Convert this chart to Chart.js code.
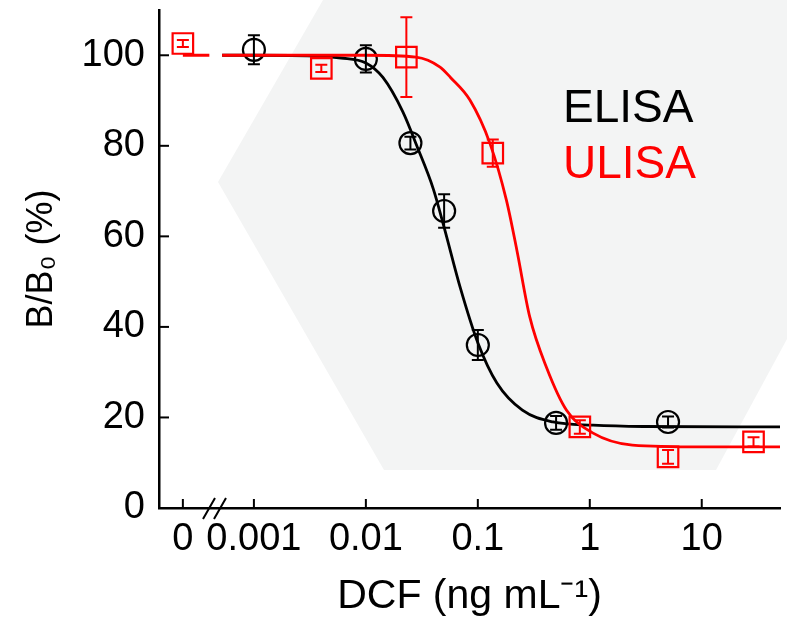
<!DOCTYPE html>
<html>
<head>
<meta charset="utf-8">
<script src="https://cdn.jsdelivr.net/npm/chart.js@4.4.1/dist/chart.umd.min.js"></script>
<style>
html, body { margin: 0; padding: 0; background: #fff; }
#wrap { width: 787px; height: 623px; }
</style>
</head>
<body>
<div id="wrap"><canvas id="c" width="787" height="623"></canvas></div>
<script>
// where "0" sits on the log axis, left of the break
const ZERO_POS = 2.32e-4
const BREAK_LO = 4.0e-4
const BREAK_HI = 5.2e-4

const xTickVals = [0, 0.001, 0.01, 0.1, 1, 10]
const yTickVals = [0, 20, 40, 60, 80, 100]

// ELISA measured points
const elisaConc = [0.001, 0.01, 0.025, 0.05, 0.1, 0.5, 5]
const elisaB = [101.2, 99.2, 80.6, 65.6, 36.0, 18.8, 19.0]
const elisaErr = [3.2, 3.0, 1.4, 3.7, 3.3, 1.5, 1.2]

// ULISA measured points
const ulisaConc = [0, 0.004, 0.023, 0.136, 0.815, 5, 29]
const ulisaB = [102.6, 97.1, 99.6, 78.4, 17.9, 11.3, 14.6]
const ulisaErr = [0.8, 0.8, 8.8, 3.0, 1.5, 1.5, 1.0]

// fitted curves
const elisaFitX = [BREAK_HI, 0.001, 0.003, 0.006, 0.01, 0.0142, 0.0214, 0.0285, 0.04, 0.05, 0.07, 0.1, 0.148, 0.25, 0.47, 1.07, 3, 50]
const elisaFitY = [100, 100, 99.9, 99.4, 98.3, 95.1, 87.5, 80.0, 70.5, 62.0, 48.5, 36.5, 27.6, 21.6, 19.0, 18.3, 18.0, 17.9]
const ulisaFitX = [ZERO_POS, BREAK_LO, BREAK_LO, BREAK_HI, 0.001, 0.01, 0.028, 0.046, 0.057, 0.085, 0.128, 0.18, 0.223, 0.291, 0.41, 0.62, 1.06, 2.4, 10, 50]
const ulisaFitY = [100, 100, null, 100, 100, 100, 99.6, 97.4, 95.1, 90.1, 80.6, 68.0, 57.0, 42.2, 31.1, 21.6, 16.6, 13.9, 13.5, 13.5]

const pos = v => v === 0 ? ZERO_POS : v
const pts = (xs, ys) => xs.map((x, i) => ({x: pos(x), y: ys[i]}))

const FONT = "Arial, 'Liberation Sans', sans-serif"

const bgPlugin = {
  id: 'bg',
  beforeDraw(chart) {
    const ctx = chart.ctx
    ctx.save()
    ctx.fillStyle = '#f3f4f4'
    ctx.beginPath()
    ctx.moveTo(218, 182)
    ctx.lineTo(323, 0)
    ctx.lineTo(787, 0)
    ctx.lineTo(787, 339)
    ctx.lineTo(716, 470)
    ctx.lineTo(384, 470)
    ctx.closePath()
    ctx.fill()
    ctx.restore()
  }
}

const decoPlugin = {
  id: 'deco',
  afterDatasetsDraw(chart) {
    const ctx = chart.ctx
    const xs = chart.scales.x, ys = chart.scales.y
    ctx.save()
    ctx.lineWidth = 2
    chart.data.datasets.forEach(ds => {
      if (!ds.errors) return
      ctx.strokeStyle = ds.borderColor
      ds.data.forEach((p, i) => {
        const px = xs.getPixelForValue(p.x)
        const y1 = ys.getPixelForValue(p.y + ds.errors[i])
        const y2 = ys.getPixelForValue(p.y - ds.errors[i])
        ctx.beginPath()
        ctx.moveTo(px, y1); ctx.lineTo(px, y2)
        ctx.moveTo(px - 6, y1); ctx.lineTo(px + 6, y1)
        ctx.moveTo(px - 6, y2); ctx.lineTo(px + 6, y2)
        ctx.stroke()
      })
    })
    ctx.restore()
  },
  afterDraw(chart) {
    const ctx = chart.ctx
    const xs = chart.scales.x, ys = chart.scales.y
    const a = chart.chartArea
    ctx.save()
    ctx.strokeStyle = '#000'
    ctx.lineWidth = 2
    // inward ticks
    xs.ticks.forEach(t => {
      const px = xs.getPixelForValue(t.value)
      ctx.beginPath(); ctx.moveTo(px, a.bottom); ctx.lineTo(px, a.bottom - 9); ctx.stroke()
    })
    ys.ticks.forEach(t => {
      const py = ys.getPixelForValue(t.value)
      ctx.beginPath(); ctx.moveTo(a.left, py); ctx.lineTo(a.left + 10, py); ctx.stroke()
    })
    // axis break
    ctx.beginPath()
    ctx.moveTo(203, a.bottom + 11); ctx.lineTo(215, a.bottom - 10)
    ctx.moveTo(214, a.bottom + 11); ctx.lineTo(226, a.bottom - 10)
    ctx.stroke()
    // legend text
    ctx.font = '46px ' + FONT
    ctx.textBaseline = 'alphabetic'
    ctx.fillStyle = '#000'
    ctx.fillText('ELISA', 563, 122)
    ctx.fillStyle = '#ff0000'
    ctx.fillText('ULISA', 563, 178)
    ctx.restore()
  }
}

new Chart(document.getElementById('c'), {
  type: 'scatter',
  data: {
    datasets: [
      {
        data: pts(ulisaConc, ulisaB), errors: ulisaErr,
        pointStyle: 'rect', pointRadius: 14.5, borderColor: '#ff0000', backgroundColor: 'rgba(0,0,0,0)', borderWidth: 2.2
      },
      {
        type: 'line', data: pts(ulisaFitX, ulisaFitY), showLine: true, spanGaps: false,
        pointRadius: 0, borderColor: '#ff0000', borderWidth: 2.8, cubicInterpolationMode: 'monotone', fill: false
      },
      {
        data: pts(elisaConc, elisaB), errors: elisaErr,
        pointStyle: 'circle', pointRadius: 11, borderColor: '#000', backgroundColor: 'rgba(0,0,0,0)', borderWidth: 2.2
      },
      {
        type: 'line', data: pts(elisaFitX, elisaFitY), showLine: true,
        pointRadius: 0, borderColor: '#000', borderWidth: 2.8, cubicInterpolationMode: 'monotone', fill: false
      }
    ]
  },
  options: {
    responsive: false,
    animation: false,
    devicePixelRatio: 1,
    layout: { autoPadding: false, padding: { top: 10, right: 7, left: 0, bottom: 0 } },
    plugins: { legend: { display: false }, tooltip: { enabled: false } },
    scales: {
      x: {
        type: 'logarithmic',
        min: 1.42e-4,
        max: 50,
        grid: { display: false },
        border: { color: '#000', width: 2.5 },
        afterBuildTicks: s => { s.ticks = xTickVals.map(v => ({value: pos(v)})) },
        afterFit: s => { s.height = 115; s.paddingLeft = 0; s.paddingRight = 0 },
        ticks: {
          autoSkip: false, maxRotation: 0, padding: 1, color: '#000',
          font: { family: FONT, size: 38 },
          callback: v => v === ZERO_POS ? '0' : String(v)
        },
        title: { display: true, text: 'DCF (ng mL⁻¹)', color: '#000', font: { family: FONT, size: 41 }, padding: 2 }
      },
      y: {
        min: 0,
        max: 110,
        grid: { display: false },
        border: { color: '#000', width: 2.5 },
        afterBuildTicks: s => { s.ticks = yTickVals.map(v => ({value: v})) },
        afterFit: s => { s.width = 159; s.paddingTop = 0; s.paddingBottom = 0 },
        ticks: { padding: 6, color: '#000', font: { family: FONT, size: 38 } },
        title: { display: true, text: 'B/B₀ (%)', color: '#000', font: { family: FONT, size: 36 }, padding: 20 }
      }
    }
  },
  plugins: [bgPlugin, decoPlugin]
})
</script>
</body>
</html>
